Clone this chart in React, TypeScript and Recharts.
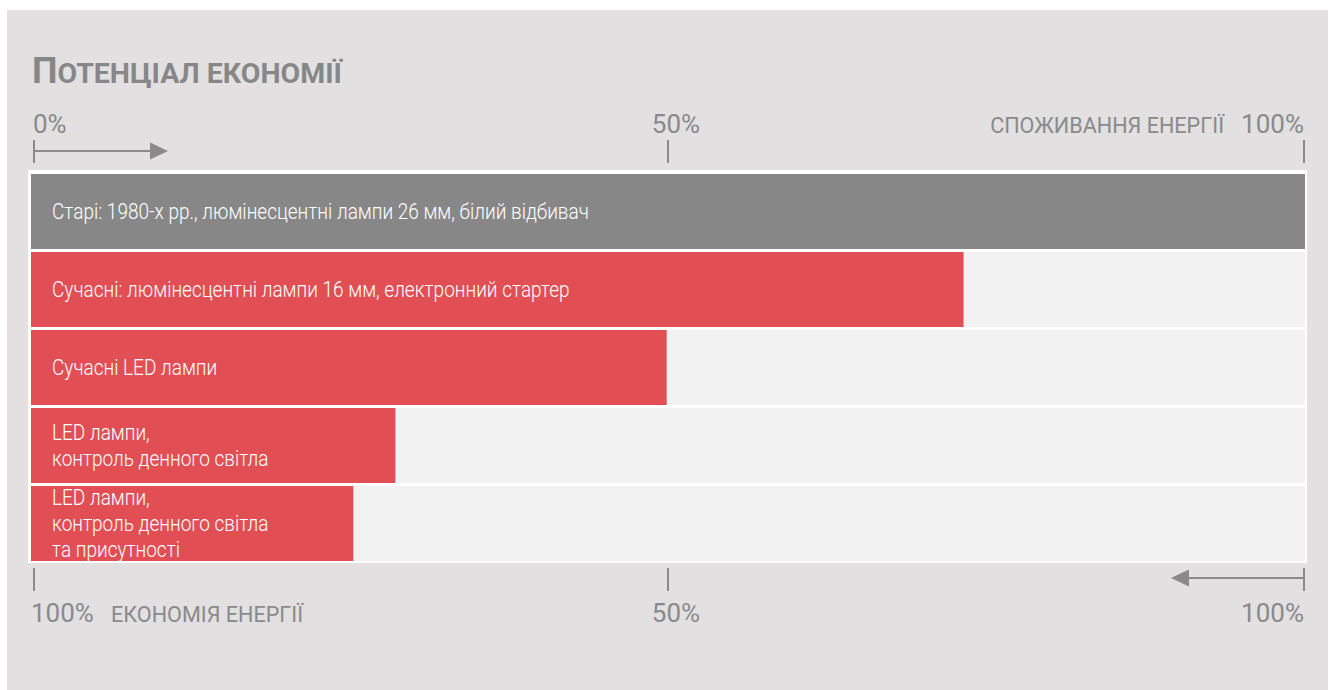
import { BarChart, Bar, XAxis, YAxis, Cell, LabelList } from "recharts";

const categories = ["old", "fl16", "led", "ledDay", "ledDayPresence"];
const values = [100, 73.2, 49.9, 28.6, 25.3];
const labels = [
  "Старі: 1980-х рр., люмінесцентні лампи 26 мм, білий відбивач",
  "Сучасні: люмінесцентні лампи 16 мм, електронний стартер",
  "Сучасні LED лампи",
  "LED лампи,\nконтроль денного світла",
  "LED лампи,\nконтроль денного світла\nта присутності",
];
const barColors = ["#878787", "#e14f55", "#e14f55", "#e14f55", "#e14f55"];
const axisTicks = [0, 50, 100];
const topTickLabels = ["0%", "50%", "100%"];
const bottomTickLabels = ["100%", "50%", "100%"];

const data = categories.map((c, i) => ({ id: c, value: values[i], label: labels[i] }));

const GRAY = "#8a8a8a";
const FONT = "Roboto, sans-serif";

function TopTick(props: any) {
  const { x, y, payload, index } = props;
  const v = payload.value;
  const tx = v === 0 ? x + 3 : v === 100 ? x - 1 : x;
  return (
    <g>
      <line x1={tx} x2={tx} y1={y - 32} y2={y - 9} stroke={GRAY} strokeWidth={2} />
      {v === 0 && (
        <>
          <line x1={tx} x2={tx + 118} y1={y - 21} y2={y - 21} stroke={GRAY} strokeWidth={2} />
          <path d={`M${tx + 116},${y - 29.5} L${tx + 134},${y - 21} L${tx + 116},${y - 12.5} Z`} fill={GRAY} />
        </>
      )}
      <text
        x={v === 0 ? tx - 1 : v === 100 ? tx : tx + 8}
        y={y - 39}
        textAnchor={v === 0 ? "start" : v === 100 ? "end" : "middle"}
        fill={GRAY}
        fontSize={26}
        fontFamily={FONT}
      >
        {topTickLabels[index]}
      </text>
      {v === 100 && (
        <text
          transform={`translate(${tx - 80} ${y - 39}) scale(0.96 1)`}
          textAnchor="end"
          fill={GRAY}
          fontSize={22.5}
          fontFamily={FONT}
        >
          СПОЖИВАННЯ ЕНЕРГІЇ
        </text>
      )}
    </g>
  );
}

function BottomTick(props: any) {
  const { x, y, payload, index } = props;
  const v = payload.value;
  const tx = v === 0 ? x + 3 : v === 100 ? x - 1 : x;
  return (
    <g>
      <line x1={tx} x2={tx} y1={y + 6} y2={y + 29} stroke={GRAY} strokeWidth={2} />
      {v === 100 && (
        <>
          <line x1={tx} x2={tx - 118} y1={y + 16} y2={y + 16} stroke={GRAY} strokeWidth={2} />
          <path d={`M${tx - 115},${y + 7.5} L${tx - 133},${y + 16} L${tx - 115},${y + 24.5} Z`} fill={GRAY} />
        </>
      )}
      <text
        x={v === 0 ? tx - 3 : v === 100 ? tx : tx + 8}
        y={y + 60}
        textAnchor={v === 0 ? "start" : v === 100 ? "end" : "middle"}
        fill={GRAY}
        fontSize={26}
        fontFamily={FONT}
      >
        {bottomTickLabels[index]}
      </text>
      {v === 0 && (
        <text
          transform={`translate(${tx + 77} ${y + 60}) scale(0.96 1)`}
          fill={GRAY}
          fontSize={22.5}
          fontFamily={FONT}
        >
          ЕКОНОМІЯ ЕНЕРГІЇ
        </text>
      )}
    </g>
  );
}

function BarText(props: any) {
  const { x, y, height, value } = props;
  const lines = String(value).split("\n");
  const lh = 26;
  const cy = y + height / 2;
  const y0 = cy - ((lines.length - 1) * lh) / 2;
  return (
    <g transform={`translate(${x + 21} 0) scale(0.865 1)`}>
      <text x={0} fill="#fff" fontSize={22} fontWeight={300} fontFamily={FONT} dominantBaseline="central">
        {lines.map((l, i) => (
          <tspan key={i} x={0} y={y0 + i * lh}>
            {l}
          </tspan>
        ))}
      </text>
    </g>
  );
}

export default function App() {
  return (
    <div style={{ position: "absolute", left: 0, top: 0, width: 1332, height: 690, background: "#fff" }}>
      <div style={{ position: "absolute", left: 7, top: 10, width: 1321, height: 680, background: "#e2e0e1" }} />
      <svg style={{ position: "absolute", left: 0, top: 0 }} width={1332} height={100}>
        <text x={32} y={83} fill="#878787" fontWeight={700} fontFamily={FONT}>
          <tspan fontSize={36}>П</tspan>
          <tspan fontSize={28.5}>ОТЕНЦІАЛ ЕКОНОМІЇ</tspan>
        </text>
      </svg>
      <div style={{ position: "absolute", left: 28, top: 170, width: 1279, height: 393, background: "#fff" }} />
      <div style={{ position: "absolute", left: 0, top: 0 }}>
        <BarChart
          width={1332}
          height={690}
          data={data}
          layout="vertical"
          margin={{ top: 171, right: 27, bottom: 127, left: 31 }}
          barSize={75}
        >
          <XAxis
            xAxisId="top"
            type="number"
            orientation="top"
            domain={[0, 100]}
            ticks={axisTicks}
            interval={0}
            height={1}
            axisLine={false}
            tickLine={false}
            tickSize={0}
            tickMargin={0}
            tick={<TopTick />}
          />
          <XAxis
            xAxisId="bottom"
            type="number"
            orientation="bottom"
            domain={[0, 100]}
            allowDataOverflow
            ticks={axisTicks}
            interval={0}
            height={1}
            axisLine={false}
            tickLine={false}
            tickSize={0}
            tickMargin={0}
            tick={<BottomTick />}
          />
          <YAxis type="category" dataKey="id" hide />
          <Bar xAxisId="top" dataKey="value" background={{ fill: "#f2f2f2" }} isAnimationActive={false}>
            {data.map((d, i) => (
              <Cell key={d.id} fill={barColors[i]} />
            ))}
            <LabelList dataKey="label" content={<BarText />} />
          </Bar>
        </BarChart>
      </div>
    </div>
  );
}
